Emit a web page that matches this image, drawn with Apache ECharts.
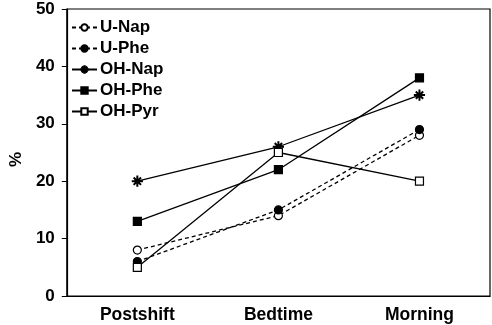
<!DOCTYPE html>
<html><head><meta charset="utf-8">
<script src="https://cdn.jsdelivr.net/npm/echarts@6/dist/echarts.min.js"></script>
<style>html,body{margin:0;padding:0;background:#fff}#c{width:492px;height:325px}</style>
</head><body><div id="c"></div>
<script>
var categories = ['Postshift', 'Bedtime', 'Morning'];
var uNap = [8, 14, 28];
var uPhe = [6, 15, 29];
var ohNap = [20, 26, 35];
var ohPhe = [13, 22, 38];
var ohPyr = [5, 25, 20];
var yTicks = [0, 10, 20, 30, 40, 50];

var star = 'path://M0 46L100 46L100 54L0 54Z M46 0L54 0L54 100L46 100Z M20.3 14.6L85.4 79.7L79.7 85.4L14.6 20.3Z M14.6 79.7L79.7 14.6L85.4 20.3L20.3 85.4Z';
var font = 'Liberation Sans, Arial, sans-serif';
function mk(name, data, symbol, fill, dashed, size) {
  return {
    name: name, type: 'line', data: data, symbol: symbol, symbolSize: size,
    lineStyle: { color: '#000', width: 1.3, type: dashed ? [4, 3] : 'solid' },
    itemStyle: { color: fill, borderColor: '#000', borderWidth: 1.2 },
    emphasis: { disabled: true }, animation: false
  };
}
var chart = echarts.init(document.getElementById('c'));
chart.setOption({
  animation: false,
  grid: { left: 62, right: 2, top: 9, bottom: 29, show: true, borderColor: '#000', borderWidth: 1.2, backgroundColor: 'transparent' },
  legend: {
    orient: 'vertical', left: 66, top: 14, itemWidth: 25, itemHeight: 8, itemGap: 4,
    textStyle: { fontFamily: font, fontWeight: 'bold', fontSize: 17, color: '#000', padding: [0,0,0,-2] },
    data: ['U-Nap', 'U-Phe', 'OH-Nap', 'OH-Phe', 'OH-Pyr']
  },
  xAxis: {
    type: 'category', data: categories, boundaryGap: true,
    axisLine: { lineStyle: { color: '#000', width: 1.2 } },
    axisTick: { alignWithLabel: true, length: 5, lineStyle: { color: '#000' } },
    axisLabel: { fontFamily: font, fontWeight: 'bold', fontSize: 17.5, color: '#000', margin: 10 }
  },
  yAxis: {
    type: 'value', min: yTicks[0], max: yTicks[yTicks.length - 1], interval: 10,
    name: '%', nameLocation: 'middle', nameGap: 40,
    nameTextStyle: { fontFamily: font, fontWeight: 'bold', fontSize: 17, color: '#000', padding: [0, 0, 0, -14] },
    axisLine: { show: true, lineStyle: { color: '#000', width: 1.2 } },
    axisTick: { show: true, length: 5, lineStyle: { color: '#000' } },
    splitLine: { show: false },
    axisLabel: { fontFamily: font, fontWeight: 'bold', fontSize: 17, color: '#000', margin: 12 }
  },
  series: [
    mk('U-Nap', uNap, 'circle', '#fff', true, 8),
    mk('U-Phe', uPhe, 'circle', '#000', true, 8),
    mk('OH-Nap', ohNap, star, '#000', false, 10),
    mk('OH-Phe', ohPhe, 'rect', '#000', false, 8),
    mk('OH-Pyr', ohPyr, 'rect', '#fff', false, 8)
  ]
});
</script></body></html>
